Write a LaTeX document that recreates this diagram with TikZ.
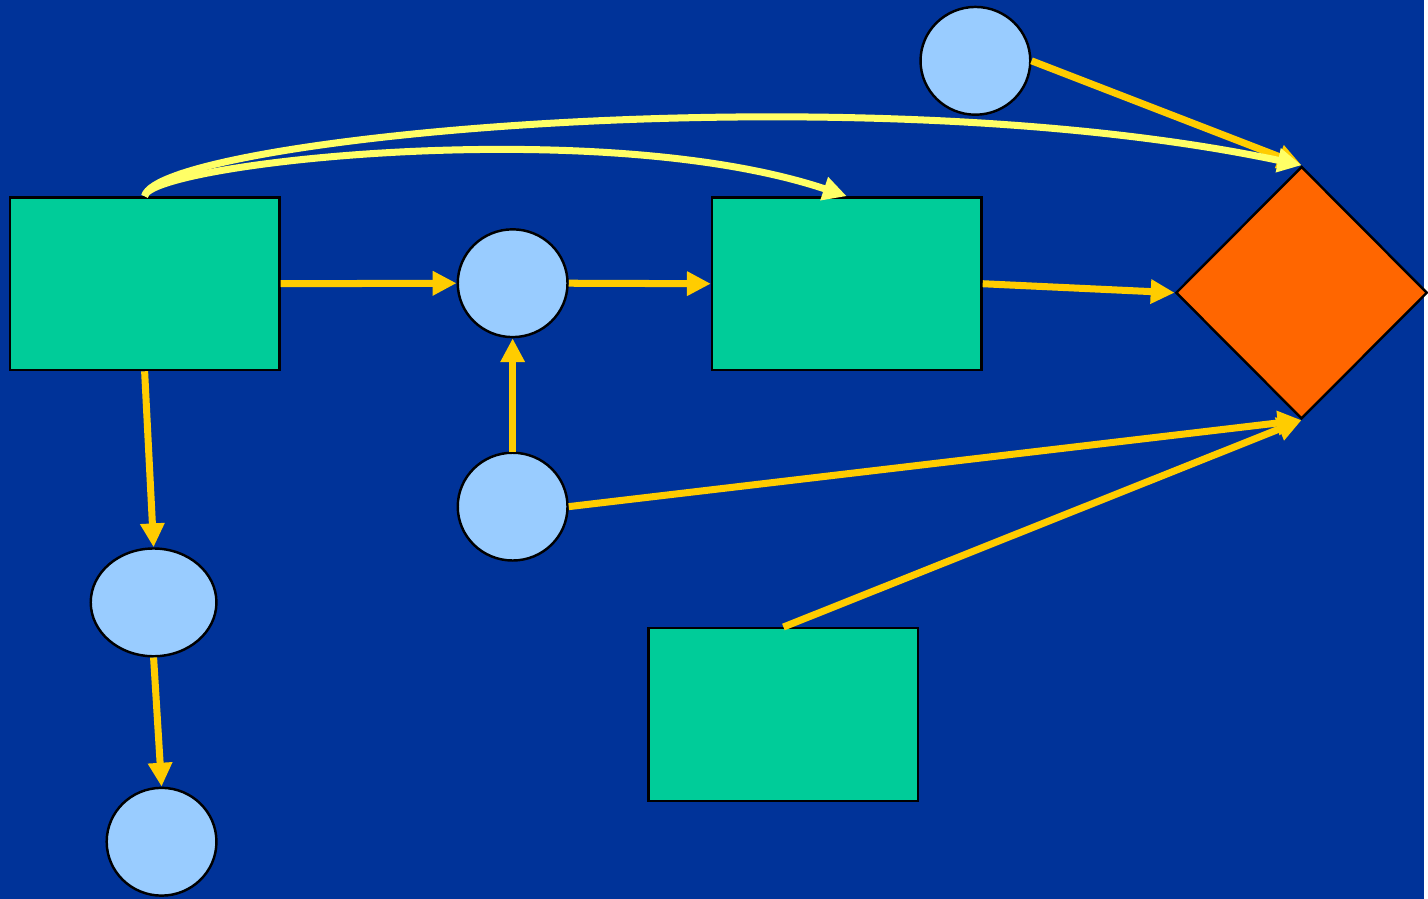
\documentclass[tikz,border=0pt]{standalone}
\usetikzlibrary{shapes.geometric,arrows.meta}
\definecolor{bgblue}{HTML}{003399}
\definecolor{boxgreen}{HTML}{00CC99}
\definecolor{dotblue}{HTML}{99CCFF}
\definecolor{dmorange}{HTML}{FF6600}
\definecolor{arrgold}{HTML}{FFCC00}
\definecolor{arrpale}{HTML}{FFFF66}
\begin{document}
\begin{tikzpicture}[x=0.01cm,y=0.01cm,
    box/.style={draw=black,line width=0.7pt,fill=boxgreen,minimum width=2.7cm,minimum height=1.73cm,inner sep=0pt},
    dot/.style={ellipse,draw=black,line width=0.7pt,fill=dotblue,minimum width=1.1cm,minimum height=1.08cm,inner sep=0pt},
    flow/.style={draw=arrgold,line width=2pt,-{Triangle[length=6.8pt,width=6.6pt]}},
    arc/.style={draw=arrpale,line width=2pt,-{Triangle[length=6.8pt,width=6.6pt]}}]
    \path [fill=bgblue] (0,0) rectangle (1428,901);
    \node [box] (A) at (145,616.5) {};
    \node [box] (B) at (849,616.5) {};
    \node [box] (C) at (785.5,184.5) {};
    \node [diamond,draw=black,line width=0.7pt,fill=dmorange,minimum width=2.52cm,minimum height=2.53cm,inner sep=0pt] (D) at (1305,607.5) {};
    \node [dot] (top) at (978,840) {};
    \node [dot] (mid) at (514,617) {};
    \node [dot] (low) at (514,393) {};
    \node [dot,minimum width=1.26cm] (ell) at (154,297) {};
    \node [dot] (bot) at (162,57) {};
    \draw [flow] (A.east)--(mid.west);
    \draw [flow] (mid.east)--(B.west);
    \draw [flow] (low.north)--(mid.south);
    \draw [flow] (A.south)--(ell.north);
    \draw [flow] (ell.south)--(bot.north);
    \draw [flow] (B.east)--(D.west);
    \draw [flow] (low.east)--(D.south);
    \draw [flow] (C.north)--(D.south);
    \draw [flow] (top.east)--(D.north);
    \draw [arc] (A.north) .. controls +(12,58) and +(-450,95) .. (D.north);
    \draw [arc] (A.north) .. controls +(5,33) and +(-249,83) .. (B.north);
\end{tikzpicture}
\end{document}
